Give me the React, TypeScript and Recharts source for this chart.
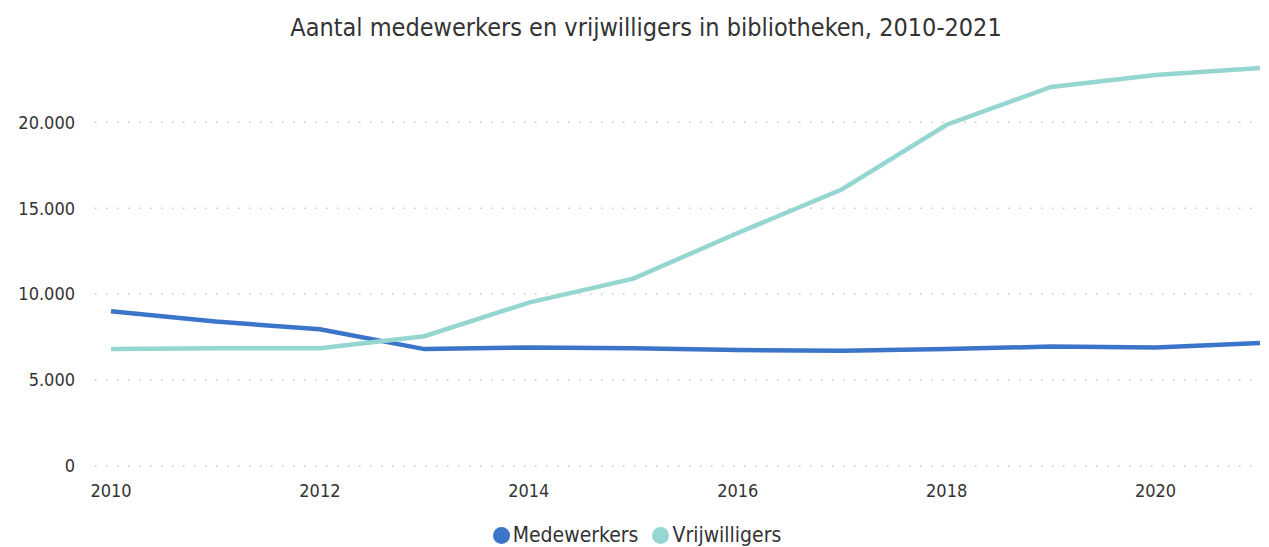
import React from 'react'
import { LineChart, Line, XAxis, YAxis, CartesianGrid, Legend } from 'recharts'

const years = [2010, 2011, 2012, 2013, 2014, 2015, 2016, 2017, 2018, 2019, 2020, 2021]
const medewerkers = [9000, 8400, 7950, 6800, 6900, 6850, 6750, 6700, 6800, 6950, 6900, 7150]
const vrijwilligers = [6800, 6850, 6850, 7550, 9500, 10900, 13550, 16100, 19850, 22050, 22750, 23150]
const xTicks = [2010, 2012, 2014, 2016, 2018, 2020]
const yTicks = [0, 5000, 10000, 15000, 20000]
const Y_MAX = 23500

const BLUE = '#3b75c9'
const TEAL = '#95d6d1'
const FONT = "'Liberation Sans Narrow', 'DejaVu Sans Condensed', Roboto, sans-serif"

const data = years.map((year, i) => ({
  year,
  Medewerkers: medewerkers[i],
  Vrijwilligers: vrijwilligers[i],
}))

const fmt = (v: number) => v.toLocaleString('de-DE')

function LegendBox() {
  const items = [
    { name: 'Medewerkers', color: BLUE },
    { name: 'Vrijwilligers', color: TEAL },
  ]
  return (
    <div
      style={{
        height: 41,
        display: 'flex',
        justifyContent: 'center',
        alignItems: 'flex-end',
        gap: 14,
        fontFamily: FONT,
        fontSize: 21,
        fontWeight: 500,
        color: '#333',
        paddingLeft: 14,
        boxSizing: 'border-box',
      }}
    >
      {items.map((it) => (
        <div key={it.name} style={{ display: 'flex', alignItems: 'center', gap: 3, height: 24 }}>
          <span
            style={{ width: 17, height: 17, borderRadius: '50%', background: it.color, display: 'inline-block' }}
          />
          <span>{it.name}</span>
        </div>
      ))}
    </div>
  )
}

// grid only at the y ticks, not at the top edge of the plot
const gridRows = ({ offset }: any) =>
  yTicks.map((t) => offset.top + offset.height * (1 - t / Y_MAX))

export default function App() {
  return (
    <div style={{ position: 'relative', width: 1269, height: 547, background: '#fff' }}>
      <style>{`body{margin:0}`}</style>
      <div
        style={{
          position: 'absolute',
          top: 13,
          left: 0,
          width: 1292,
          textAlign: 'center',
          fontFamily: FONT,
          fontSize: 25,
          color: '#333',
        }}
      >
        Aantal medewerkers en vrijwilligers in bibliotheken, 2010-2021
      </div>
      <LineChart width={1269} height={547} data={data} margin={{ top: 62, right: 9, left: 0, bottom: 0 }}>
        <CartesianGrid
          vertical={false}
          stroke="#c8c8c8"
          strokeDasharray="1.5 9.5"
          strokeWidth={1.5}
          horizontalCoordinatesGenerator={gridRows}
        />
        <XAxis
          dataKey="year"
          type="number"
          domain={[2010, 2021]}
          ticks={xTicks}
          padding={{ left: 16, right: 0 }}
          axisLine={false}
          tickLine={false}
          height={40}
          tickMargin={12}
          tick={{ fill: '#333', fontSize: 18, fontWeight: 500, fontFamily: FONT }}
        />
        <YAxis
          domain={[0, Y_MAX]}
          ticks={yTicks}
          width={95}
          axisLine={false}
          tickLine={false}
          tickMargin={14}
          tickFormatter={fmt}
          tick={{ fill: '#333', fontSize: 18, fontWeight: 500, fontFamily: FONT }}
        />
        <Legend verticalAlign="bottom" content={() => <LegendBox />} />
        <Line
          dataKey="Medewerkers"
          stroke={BLUE}
          strokeWidth={4.5}
          dot={false}
          isAnimationActive={false}
        />
        <Line
          dataKey="Vrijwilligers"
          stroke={TEAL}
          strokeWidth={4.5}
          dot={false}
          isAnimationActive={false}
        />
      </LineChart>
    </div>
  )
}
